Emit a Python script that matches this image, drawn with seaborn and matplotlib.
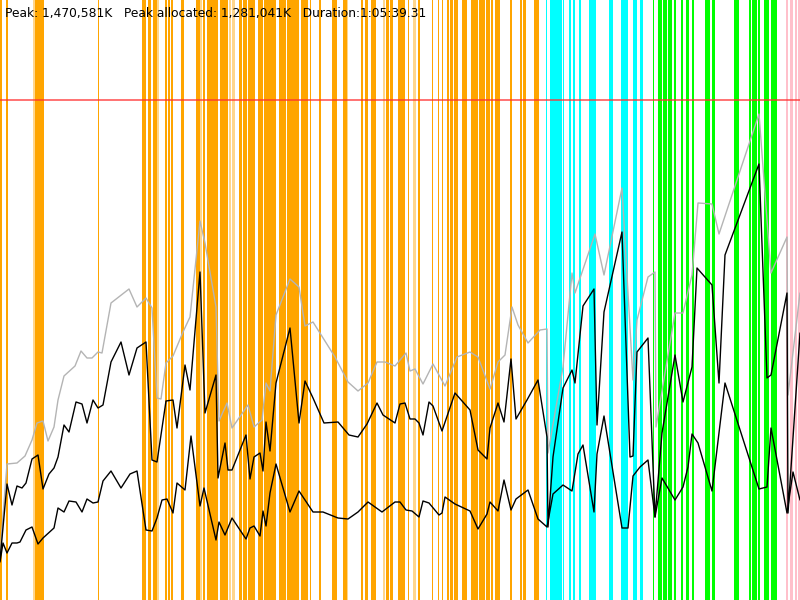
import numpy as np
import pandas as pd
import seaborn as sns
import matplotlib
matplotlib.use("Agg")
import matplotlib.pyplot as plt

# time axis: 0..800 ticks over the run, memory: 0..600 units (peak line at 500)
PEAK_LEVEL = 500
HEADER = "Peak: 1,470,581K   Peak allocated: 1,281,041K   Duration:1:05:39.31"

heap_t = [0, 7, 17, 25, 32, 37, 43, 48, 54, 58, 64, 75, 81, 87, 92, 98, 102, 111, 129, 137,
          146, 152, 157, 161, 166, 173, 183, 190, 200, 205, 216, 219, 227, 232, 248, 254, 262,
          266, 270, 276, 290, 299, 305, 313, 335, 348, 358, 368, 377, 385, 395, 406, 410, 415,
          423, 433, 445, 457, 470, 478, 490, 498, 505, 512, 518, 528, 540, 547, 548, 563, 572,
          575, 595, 604, 622, 633, 637, 648, 655, 656, 675, 683, 692, 698, 712, 719, 759, 771,
          787, 788, 800]
heap_mem = [45, 136, 137, 144, 160, 177, 179, 159, 173, 200, 224, 234, 249, 242, 242, 248, 247,
            297, 311, 293, 302, 292, 202, 201, 237, 244, 268, 283, 379, 357, 293, 179, 197, 172,
            195, 173, 180, 217, 209, 285, 321, 313, 274, 278, 243, 218, 209, 217, 238, 238, 234,
            247, 229, 231, 216, 236, 214, 243, 248, 243, 211, 238, 245, 293, 275, 257, 270, 271,
            147, 233, 327, 307, 366, 325, 412, 220, 280, 323, 328, 173, 287, 287, 325, 397, 396,
            366, 486, 327, 363, 205, 307]

used_t = [0, 7, 12, 17, 22, 26, 32, 38, 43, 49, 54, 58, 64, 69, 76, 82, 87, 93, 98, 103, 111,
          121, 129, 137, 146, 152, 157, 166, 173, 177, 185, 190, 200, 205, 216, 218, 225, 228,
          232, 246, 250, 254, 260, 263, 266, 270, 276, 290, 299, 305, 313, 324, 338, 349, 358,
          367, 377, 383, 395, 400, 405, 410, 415, 419, 423, 429, 433, 442, 455, 470, 478, 487,
          490, 498, 504, 511, 516, 527, 538, 547, 548, 553, 563, 572, 575, 583, 594, 597, 604,
          622, 630, 633, 637, 648, 655, 662, 675, 683, 692, 697, 712, 719, 725, 759, 767, 771,
          787, 788, 800]
used_mem = [40, 116, 95, 114, 112, 117, 141, 145, 111, 126, 132, 143, 175, 168, 198, 196, 177,
            200, 192, 195, 238, 258, 225, 252, 258, 140, 138, 199, 200, 172, 235, 210, 328, 187,
            225, 122, 157, 130, 130, 165, 121, 143, 147, 129, 178, 149, 217, 272, 177, 219, 202,
            177, 178, 165, 163, 176, 197, 185, 177, 196, 197, 181, 181, 177, 165, 198, 194, 169,
            207, 190, 150, 141, 172, 197, 178, 241, 181, 200, 220, 163, 73, 143, 212, 230, 217,
            294, 311, 175, 288, 368, 143, 144, 248, 262, 83, 167, 245, 198, 233, 332, 315, 217,
            345, 436, 222, 225, 307, 87, 267]

live_t = [0, 3, 7, 12, 17, 20, 26, 32, 38, 43, 54, 58, 64, 69, 76, 82, 87, 93, 98, 103, 111, 121,
          130, 137, 146, 152, 157, 162, 167, 173, 177, 185, 191, 200, 204, 216, 219, 225, 232, 246,
          250, 254, 260, 263, 266, 270, 276, 290, 299, 313, 323, 338, 348, 358, 368, 382, 395, 400,
          406, 412, 419, 423, 429, 439, 442, 445, 455, 470, 478, 487, 490, 498, 504, 511, 516, 528,
          538, 547, 553, 563, 572, 578, 583, 594, 597, 604, 622, 628, 633, 640, 648, 655, 662, 675,
          683, 688, 692, 698, 712, 725, 759, 767, 771, 787, 793, 800]
live_mem = [38, 57, 47, 57, 57, 58, 70, 73, 56, 62, 72, 92, 88, 99, 98, 88, 101, 97, 98, 119, 129,
            112, 126, 129, 70, 69, 82, 100, 101, 87, 117, 110, 164, 94, 112, 60, 78, 65, 82, 61, 72,
            74, 64, 89, 74, 107, 136, 88, 109, 88, 88, 82, 81, 88, 98, 88, 98, 98, 90, 89, 83, 99,
            97, 85, 87, 103, 96, 89, 71, 86, 98, 89, 120, 90, 101, 110, 81, 73, 106, 115, 109, 146,
            155, 88, 146, 184, 72, 72, 124, 133, 140, 83, 122, 100, 113, 133, 166, 157, 109, 217,
            111, 113, 172, 87, 128, 100]

# GC events (start, end) by kind
orange_events = [(0, 2), (6, 7.5), (35, 37.5), (38, 43.5), (98, 99), (142, 146), (148, 151),
                 (153, 157), (165, 167), (168, 170), (171, 173), (181, 184), (196, 200), (203, 205),
                 (207, 218), (220, 228), (239, 242), (243, 247), (248, 255), (258, 263), (264, 276),
                 (279, 286), (287, 299), (301, 308), (309.5, 310.5), (319, 321), (332, 337),
                 (343, 347), (361, 363), (365, 368), (371, 376), (386, 389), (390, 393), (398, 405),
                 (408, 409), (418, 420), (432, 433), (438, 439), (442, 443), (447, 449), (450, 453),
                 (453.8, 458), (462, 467), (471, 478), (479, 485), (486, 490), (491, 493),
                 (495, 500), (510, 512), (520, 522), (523, 526), (534, 539)]
orange_light = [(33, 35), (157, 159), (200, 202), (229, 231), (232, 235), (347, 348), (383, 385),
                (413, 416), (465, 466)]
cyan_events = [(546, 547), (550, 562), (562.6, 564), (569, 571), (573, 575), (579, 581), (589, 596),
               (609, 613), (621, 628), (633, 637), (640, 643)]
green_events = [(653, 654), (658, 662), (662.7, 667), (667.7, 672), (674, 676), (681, 683),
                (686, 689), (692, 694), (705, 710), (712, 715), (734, 739), (749, 751), (752, 757),
                (758, 760), (764, 769), (771, 777)]
pink_events = [(786, 788), (790, 793), (795, 797), (798, 800)]

sns.set_style("white")
fig = plt.figure(figsize=(8, 6), dpi=100)
ax = fig.add_axes([0, 0, 1, 1])

for spans, color, alpha in [(orange_events, "#ffa500", 1.0), (orange_light, "#ffa500", 0.45),
                            (cyan_events, "#00ffff", 1.0), (green_events, "#00ff00", 1.0),
                            (pink_events, "#ffc0cb", 1.0)]:
    for a, b in spans:
        ax.axvspan(a, b, color=color, alpha=alpha, lw=0, zorder=1)

ax.axhline(PEAK_LEVEL, color="#ff3030", lw=1.2, alpha=0.8, zorder=2)

heap = pd.DataFrame({"t": heap_t, "mem": heap_mem})
used = pd.DataFrame({"t": used_t, "mem": used_mem})
live = pd.DataFrame({"t": live_t, "mem": live_mem})
sns.lineplot(data=heap, x="t", y="mem", color="#b4b4b4", lw=1, estimator=None, sort=False, ax=ax, zorder=3)
sns.lineplot(data=used, x="t", y="mem", color="black", lw=1, estimator=None, sort=False, ax=ax, zorder=4)
sns.lineplot(data=live, x="t", y="mem", color="black", lw=1, estimator=None, sort=False, ax=ax, zorder=4)

ax.set_xlim(0, 800)
ax.set_ylim(0, 600)
ax.axis("off")

fig.text(5 / 800, 1 - 17 / 600, HEADER, fontsize=8.8, color="black", va="baseline",
         family=["Lucida Grande", "DejaVu Sans"])

fig.savefig("out.png", dpi=100)
